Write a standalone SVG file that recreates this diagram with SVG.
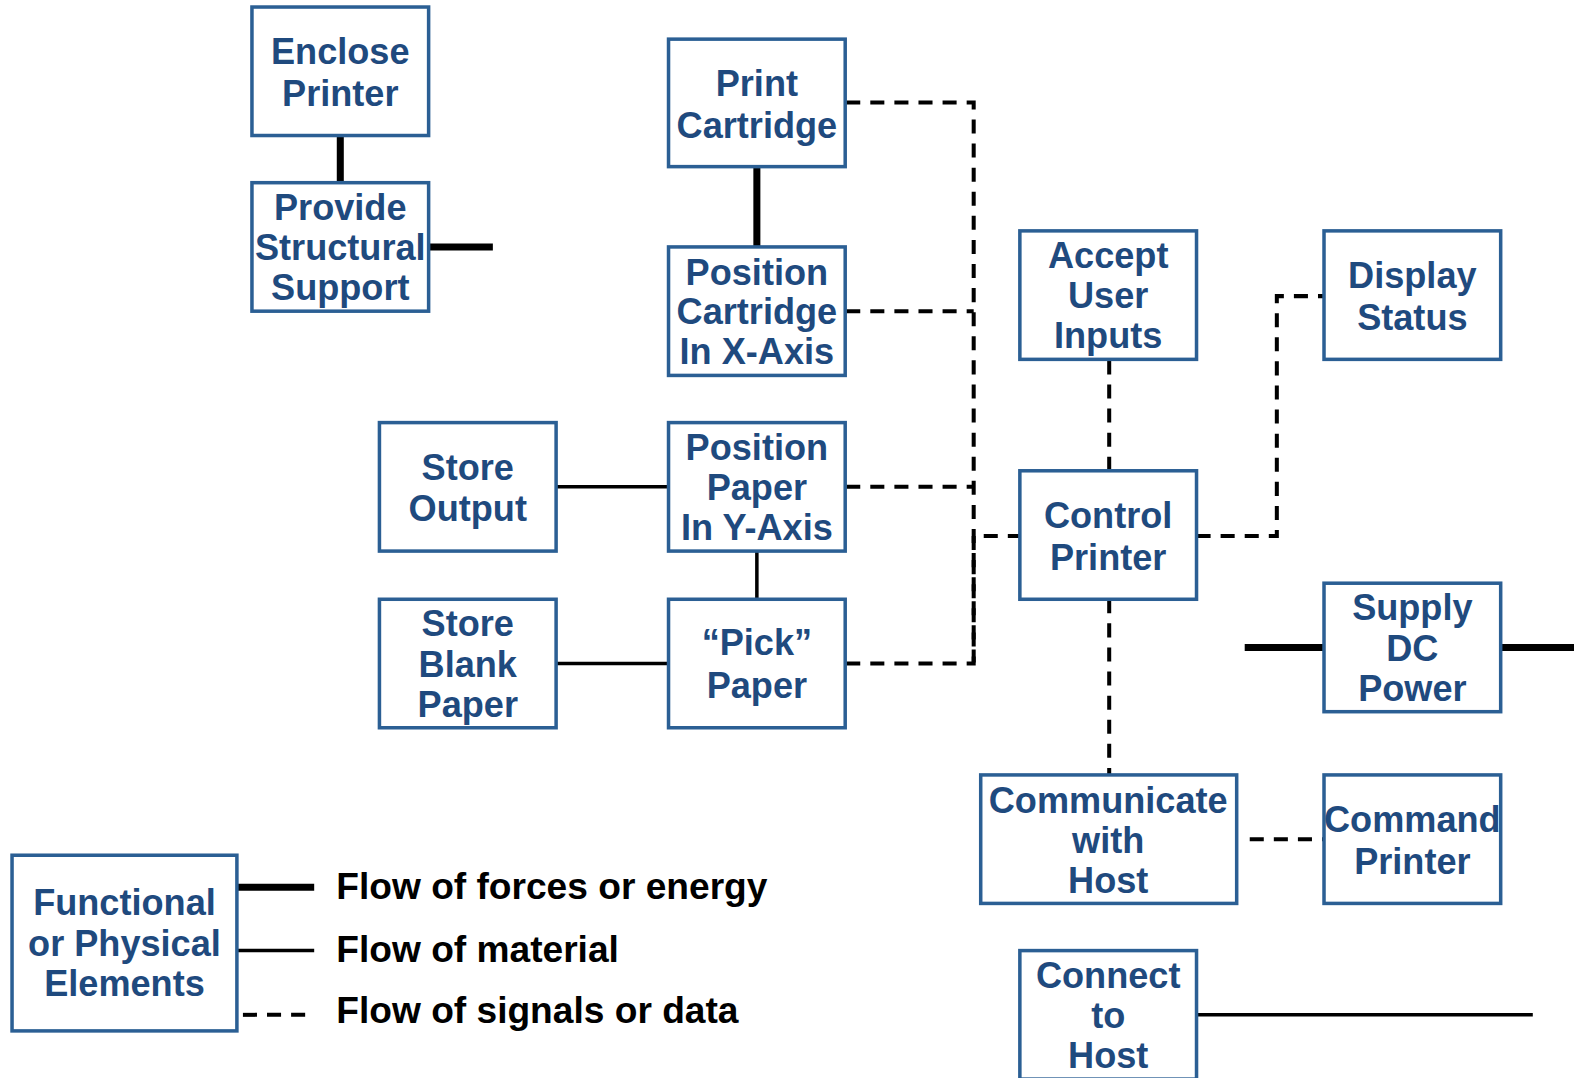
<svg xmlns="http://www.w3.org/2000/svg" width="1574" height="1078" viewBox="0 0 1574 1078">
<style>
.box{fill:#fff;stroke:#2B5F94;stroke-width:3.5}
.t{font-family:"Liberation Sans",Arial,sans-serif;font-weight:bold;font-size:36px;fill:#1F4A7E;text-anchor:middle}
.lg{font-family:"Liberation Sans",Arial,sans-serif;font-weight:bold;font-size:37px;fill:#000}
.thick{stroke:#000;stroke-width:7;fill:none}
.thin{stroke:#000;stroke-width:3.5;fill:none}
.dash{stroke:#000;stroke-width:4;fill:none;stroke-dasharray:14 10}
</style>
<rect width="1574" height="1078" fill="#fff"/>
<g transform="scale(1.0038)">
<g id="connectors">
<line class="thick" x1="339" y1="135" x2="339" y2="182"/>
<line class="thick" x1="427" y1="246" x2="491" y2="246"/>
<line class="thick" x1="754" y1="166" x2="754" y2="246"/>
<line class="thin" x1="554" y1="485" x2="665" y2="485"/>
<line class="thin" x1="754" y1="549" x2="754" y2="597"/>
<line class="thin" x1="554" y1="661" x2="665" y2="661"/>
<path class="dash" d="M843,102 H970 V660"/>
<path class="dash" d="M843,310 H970"/>
<path class="dash" d="M843,485 H970"/>
<path class="dash" d="M843,661 H970 V534 H1016"/>
<path class="dash" d="M1105,359 V469"/>
<path class="dash" d="M1192,534 H1272 V295 H1318"/>
<path class="dash" d="M1105,597 V772"/>
<path class="dash" d="M1245,836 H1318"/>
<line class="thick" x1="1240" y1="645" x2="1318" y2="645"/>
<line class="thick" x1="1496" y1="645" x2="1574" y2="645"/>
<line class="thin" x1="1192" y1="1011" x2="1527" y2="1011"/>
<line class="thick" x1="236" y1="884" x2="313" y2="884"/>
<line class="thin" x1="236" y1="947" x2="313" y2="947"/>
<path class="dash" d="M242,1011 H313" stroke-dasharray="12 9"/>
</g>
<g id="enclose-printer"><rect class="box" x="251" y="7" width="176" height="128"/><text class="t" x="339" y="64">Enclose</text><text class="t" x="339" y="106">Printer</text></g>
<g id="provide-structural-support"><rect class="box" x="251" y="182" width="176" height="128"/><text class="t" x="339" y="219">Provide</text><text class="t" x="339" y="259">Structural</text><text class="t" x="339" y="299">Support</text></g>
<g id="print-cartridge"><rect class="box" x="666" y="39" width="176" height="127"/><text class="t" x="754" y="96">Print</text><text class="t" x="754" y="137">Cartridge</text></g>
<g id="position-cartridge"><rect class="box" x="666" y="246" width="176" height="128"/><text class="t" x="754" y="284">Position</text><text class="t" x="754" y="323">Cartridge</text><text class="t" x="754" y="363">In X-Axis</text></g>
<g id="store-output"><rect class="box" x="378" y="421" width="176" height="128"/><text class="t" x="466" y="478">Store</text><text class="t" x="466" y="519">Output</text></g>
<g id="position-paper"><rect class="box" x="666" y="421" width="176" height="128"/><text class="t" x="754" y="458">Position</text><text class="t" x="754" y="498">Paper</text><text class="t" x="754" y="538">In Y-Axis</text></g>
<g id="store-blank-paper"><rect class="box" x="378" y="597" width="176" height="128"/><text class="t" x="466" y="634">Store</text><text class="t" x="466" y="674">Blank</text><text class="t" x="466" y="714">Paper</text></g>
<g id="pick-paper"><rect class="box" x="666" y="597" width="176" height="128"/><text class="t" x="754" y="653">“Pick”</text><text class="t" x="754" y="695">Paper</text></g>
<g id="accept-user-inputs"><rect class="box" x="1016" y="230" width="176" height="128"/><text class="t" x="1104" y="267">Accept</text><text class="t" x="1104" y="307">User</text><text class="t" x="1104" y="347">Inputs</text></g>
<g id="display-status"><rect class="box" x="1319" y="230" width="176" height="128"/><text class="t" x="1407" y="287">Display</text><text class="t" x="1407" y="329">Status</text></g>
<g id="control-printer"><rect class="box" x="1016" y="469" width="176" height="128"/><text class="t" x="1104" y="526">Control</text><text class="t" x="1104" y="568">Printer</text></g>
<g id="supply-dc-power"><rect class="box" x="1319" y="581" width="176" height="128"/><text class="t" x="1407" y="618">Supply</text><text class="t" x="1407" y="658">DC</text><text class="t" x="1407" y="698">Power</text></g>
<g id="communicate-with-host"><rect class="box" x="977" y="772" width="255" height="128"/><text class="t" x="1104" y="810">Communicate</text><text class="t" x="1104" y="850">with</text><text class="t" x="1104" y="890">Host</text></g>
<g id="command-printer"><rect class="box" x="1319" y="772" width="176" height="128"/><text class="t" x="1407" y="829">Command</text><text class="t" x="1407" y="871">Printer</text></g>
<g id="connect-to-host"><rect class="box" x="1016" y="947" width="176" height="128"/><text class="t" x="1104" y="984">Connect</text><text class="t" x="1104" y="1024">to</text><text class="t" x="1104" y="1064">Host</text></g>
<g id="legend">
<rect class="box" x="12" y="852" width="224" height="175"/>
<text class="t" x="124" y="912">Functional</text><text class="t" x="124" y="952">or Physical</text><text class="t" x="124" y="992">Elements</text>
<text class="lg" x="335" y="896">Flow of forces or energy</text>
<text class="lg" x="335" y="958">Flow of material</text>
<text class="lg" x="335" y="1019">Flow of signals or data</text>
</g>
</g>
</svg>
